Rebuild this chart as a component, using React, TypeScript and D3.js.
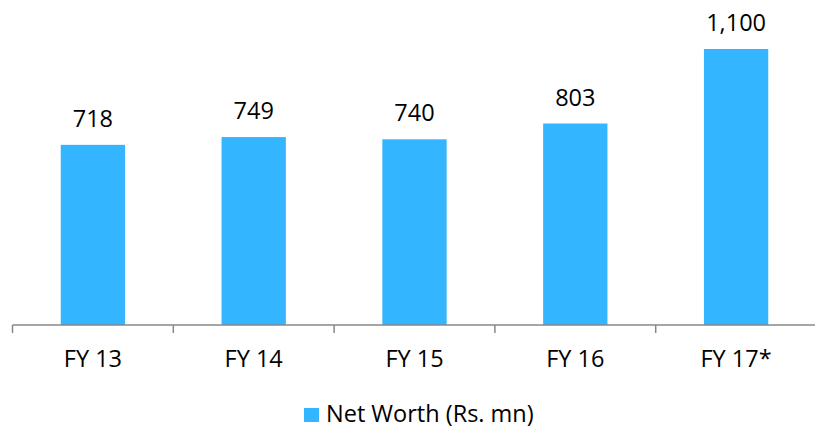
import React from "react";
import * as d3 from "d3";

const categories = ["FY 13", "FY 14", "FY 15", "FY 16", "FY 17*"];
const values = [718, 749, 740, 803, 1100];
const valueLabels = ["718", "749", "740", "803", "1,100"];
const seriesName = "Net Worth (Rs. mn)";

const W = 815;
const H = 429;
const FONT = "'Open Sans', sans-serif";
const COLOR = "#33B5FF";

export default function App() {
  const x = d3.scaleBand<string>().domain(categories).range([12.5, 816.5]).padding(0);
  const y = d3.scaleLinear().domain([0, 1100]).range([325, 49]);
  const bw = x.bandwidth() * 0.4;
  const baseY = y(0);
  const ticks = [...categories.map((c) => x(c)!), 816.5];

  return (
    <svg width={W} height={H} style={{ position: "absolute", left: 0, top: 0, background: "#fff" }}>
      {categories.map((c, i) => {
        const cx = x(c)! + x.bandwidth() / 2;
        return (
          <g key={c}>
            <rect x={cx - bw / 2} y={y(values[i])} width={bw} height={baseY - y(values[i])} fill={COLOR} />
            <text x={cx} y={y(values[i]) - 18} textAnchor="middle" fontFamily={FONT} fontSize={23.5} fill="#000">
              {valueLabels[i]}
            </text>
            <text x={cx} y={367} textAnchor="middle" fontFamily={FONT} fontSize={23.5} fill="#000">
              {c}
            </text>
          </g>
        );
      })}
      <line x1={12.5} x2={816.5} y1={baseY} y2={baseY} stroke="#888" strokeWidth={1.5} />
      {ticks.map((t, i) => (
        <line key={i} x1={t} x2={t} y1={baseY} y2={baseY + 8} stroke="#888" strokeWidth={1.5} />
      ))}
      <rect x={304} y={408} width={15} height={14} fill={COLOR} />
      <text x={326} y={422} fontFamily={FONT} fontSize={23.5} fill="#000">
        {seriesName}
      </text>
    </svg>
  );
}
